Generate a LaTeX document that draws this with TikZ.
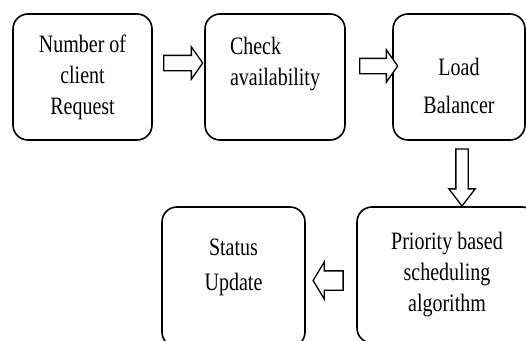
\documentclass[tikz,border=0pt]{standalone}
\usepackage{fontspec}
\setmainfont{Liberation Serif}[FakeStretch=0.8]
\usetikzlibrary{shapes.arrows}
\tikzset{
  stepbox/.style={draw, line width=1.6pt, rounded corners=15pt, align=center,
    font=\fontsize{25}{31}\selectfont},
  boxtext/.style={align=center, font=\fontsize{25}{31}\selectfont},
  fatarrow/.style={draw, line width=1.3pt, fill=white, single arrow, inner xsep=0pt,
    single arrow head indent=0pt}
}
\begin{document}
\begin{tikzpicture}[x=1pt, y=-1pt]
  \useasboundingbox (0,0) rectangle (526,340);
  \clip (0,0) rectangle (526,340);
  % top row
  \node[stepbox, minimum width=139pt, minimum height=126pt] (request) at (82.5,77)
    {Number of\\client\\Request};
  \node[stepbox, minimum width=140pt, minimum height=126pt, align=left] (check) at (275,77)
    {Check\\availability\\\mbox{}};
  \node[stepbox, minimum width=132pt, minimum height=126pt,
    label={[boxtext, yshift=-9pt]center:Load\\[7pt]Balancer}] (balancer) at (459,77) {};
  % bottom row
  \node[stepbox, minimum width=180pt, minimum height=136pt] (priority) at (447,275)
    {Priority based\\scheduling\\algorithm};
  \node[stepbox, minimum width=143pt, minimum height=140pt,
    label={[boxtext, yshift=10pt]center:Status\\[4pt]Update}] (status) at (233.5,277) {};
  % block arrows
  \node[fatarrow, inner ysep=7pt, minimum height=39pt, minimum width=32pt,
    single arrow head extend=8.5pt, single arrow tip angle=110] (req2check) at (180.5,63) {};
  \node[fatarrow, inner ysep=7pt, minimum height=38pt, minimum width=32pt,
    single arrow head extend=8.5pt, single arrow tip angle=110] (check2bal) at (376,66) {};
  \node[fatarrow, rotate=270, inner ysep=5.5pt, minimum height=57pt, minimum width=26pt,
    single arrow head extend=7pt, single arrow tip angle=75] (bal2prio) at (462,173.5) {};
  \node[fatarrow, rotate=180, inner ysep=9pt, minimum height=30pt, minimum width=37pt,
    single arrow head extend=9pt, single arrow tip angle=118] (prio2status) at (331,280.5) {};
\end{tikzpicture}
\end{document}
